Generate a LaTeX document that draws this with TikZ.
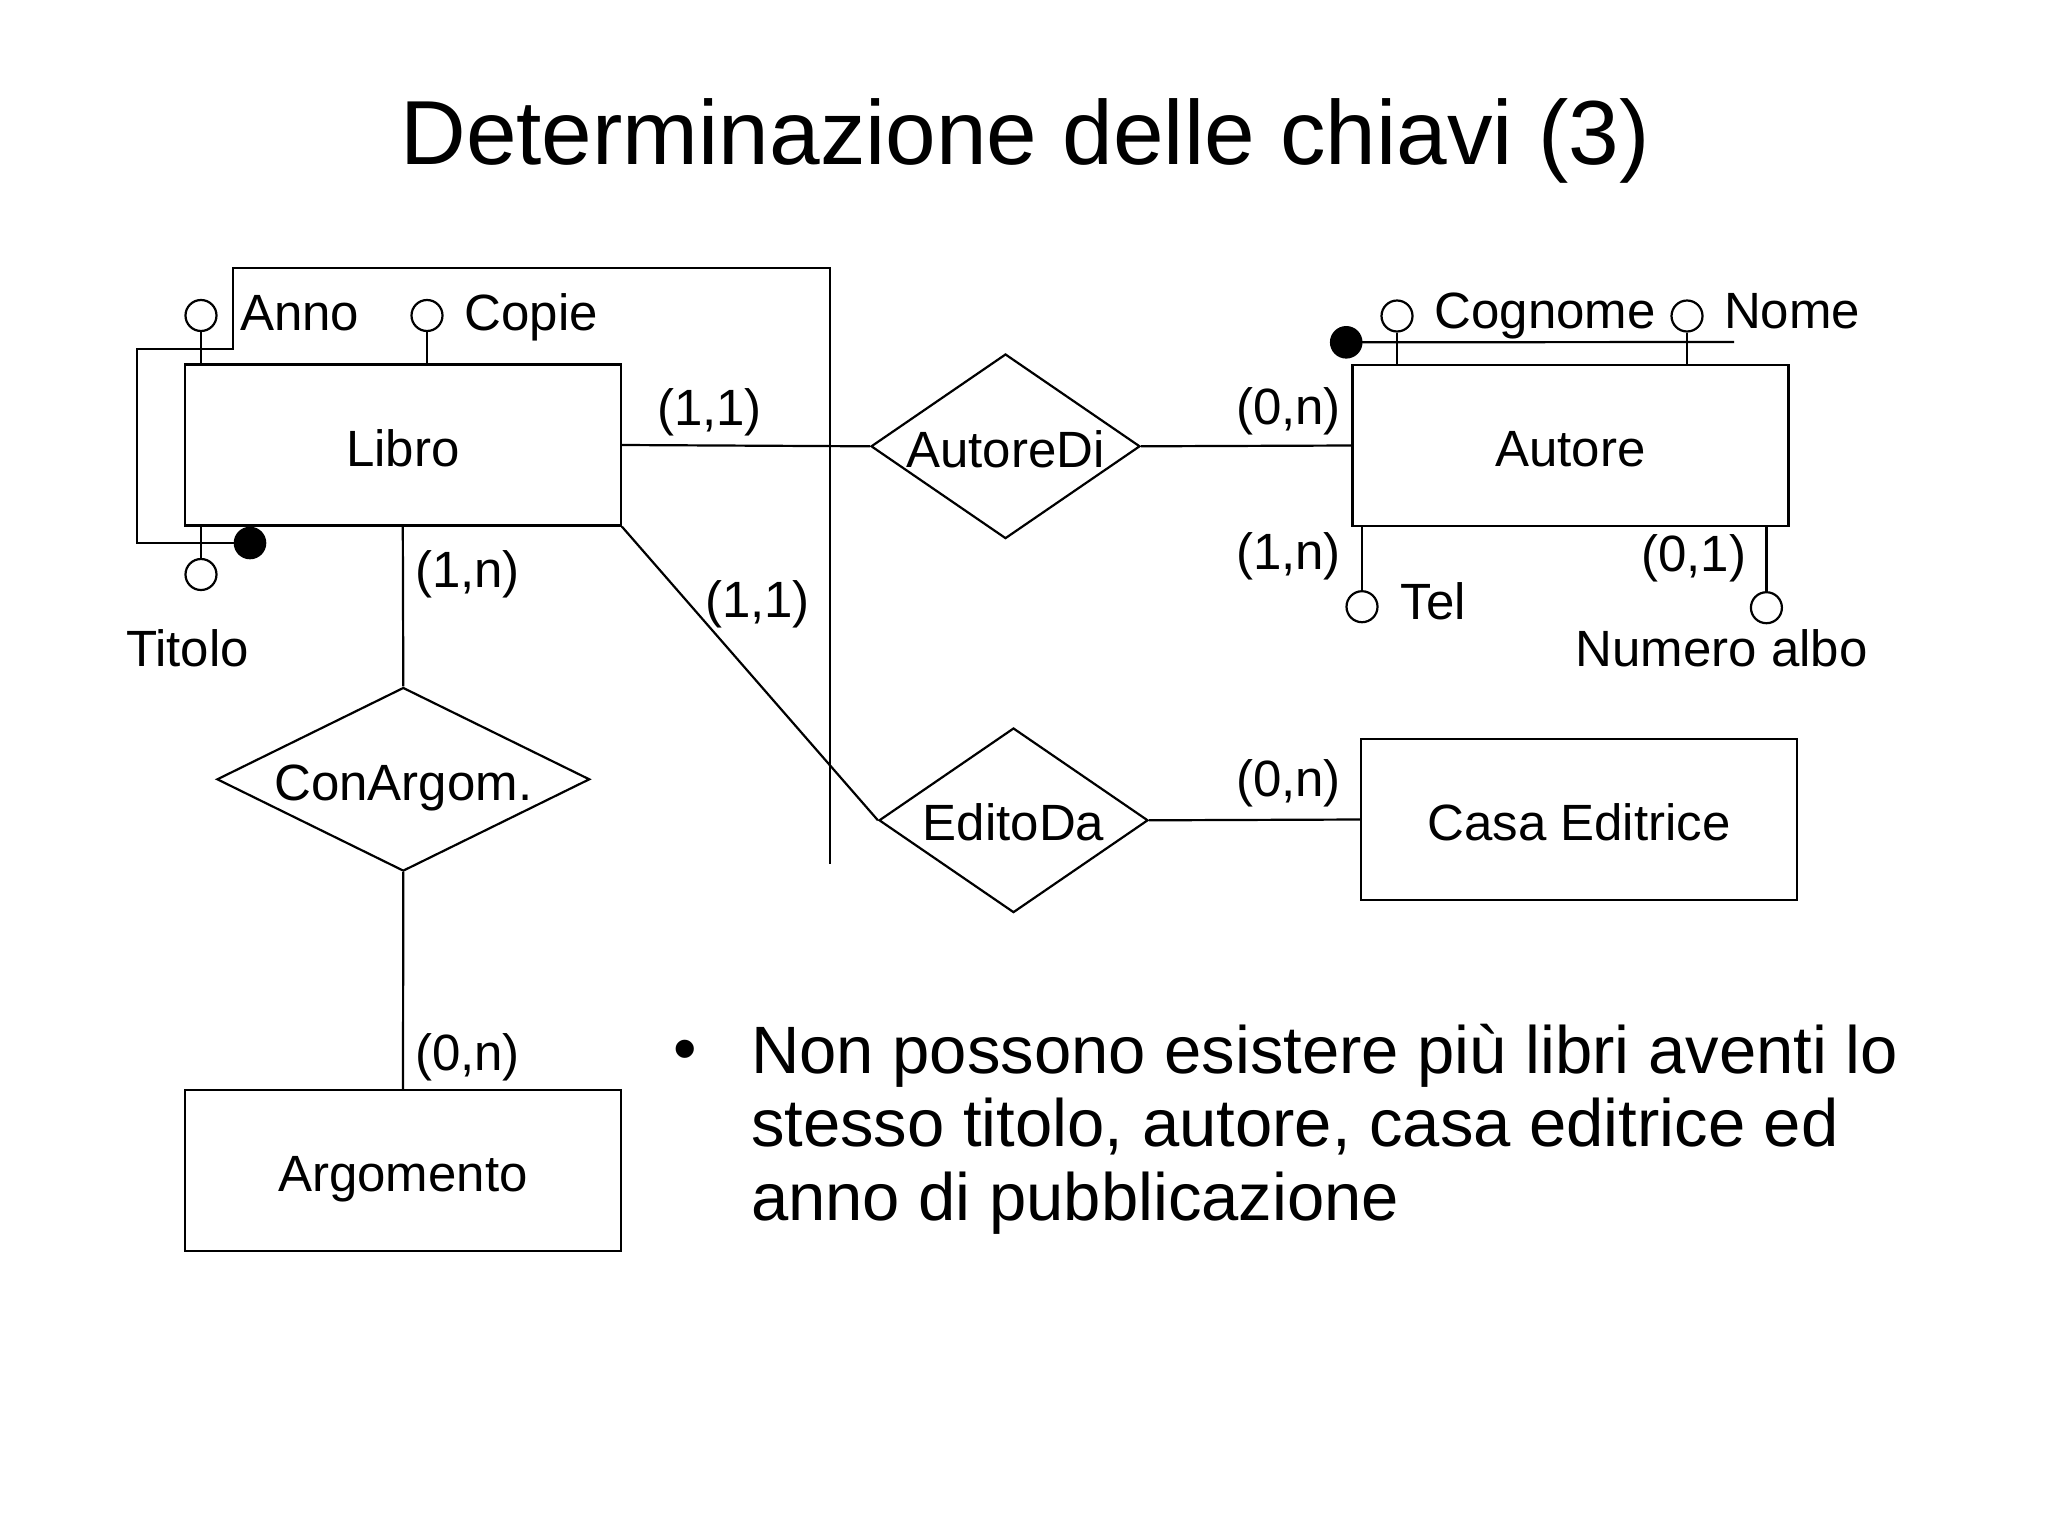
\documentclass[tikz,border=0pt]{standalone}
\usepackage{fontspec}
\setmainfont{Liberation Sans}
\usetikzlibrary{shapes.geometric}
\newcommand\lblfont{\fontsize{25.5}{30}\selectfont}
\newcommand\ttlfont{\fontsize{45.5}{52}\selectfont}
\newcommand\bulfont{\fontsize{33.5}{36.65}\selectfont}
\begin{document}
\begin{tikzpicture}[x=0.5pt,y=-0.5pt,line width=1.1pt,
  entity/.style={draw,rectangle,minimum width=218pt,minimum height=80.5pt,inner sep=0pt,
    font=\lblfont,text height=21.4pt,text depth=0pt},
  relation/.style={draw,diamond,inner sep=0pt,minimum width=134.5pt,minimum height=92.3pt},
  reltext/.style={font=\lblfont,inner sep=0pt,text height=21.4pt,text depth=0pt},
  attr/.style={draw,circle,fill=white,inner sep=0pt,minimum size=15.5pt},
  keydot/.style={fill=black,circle,inner sep=0pt,minimum size=16.3pt},
  card/.style={font=\lblfont,inner sep=0pt,anchor=base west},
  aname/.style={font=\lblfont,inner sep=0pt,anchor=base west},
  bline/.style={font=\bulfont,inner sep=0pt,anchor=base west}]
\fill[white] (0,0) rectangle (2048,1536);
\useasboundingbox (0,0) rectangle (2048,1536);

% title
\node[font=\ttlfont,inner sep=0pt,anchor=base] (title) at (1025,164.3) {Determinazione delle chiavi (3)};

% entities
\node[entity] (libro) at (402.8,445) {Libro};
\node[entity] (autore) at (1570.5,445.5) {Autore};
\node[entity] (casa) at (1579,819.5) {Casa Editrice};
\node[entity] (arg) at (403,1170.5) {Argomento};

% relationships
\node[relation] (autoredi) at (1005.5,446.3) {};
\node[reltext] (autoredit) at (autoredi) {AutoreDi};
\node[relation] (editoda) at (1013.5,820.3) {};
\node[reltext] (editodat) at ([yshift=0.5pt]editoda.center) {EditoDa};
\node[relation,minimum width=186.4pt,minimum height=91.8pt] (conarg) at (403.3,779.3) {};
\node[reltext] (conargt) at (conarg.center) {ConArgom.};

% connectors
\draw (libro.east) -- (autoredi.west);
\draw (autoredi.east) -- (autore.west);
\draw (libro.south east) -- (editoda.west);
\draw (editoda.east) -- (casa.west);
\draw (libro.south) -- (conarg.north);
\draw (conarg.south) -- (arg.north);

% Libro attributes
\node[attr] (anno) at (201,315.5) {};
\node[attr] (copie) at (427,315.5) {};
\node[attr] (titolo) at (201,574.5) {};
\draw (anno.south) -- (anno.south |- libro.north);
\draw (copie.south) -- (copie.south |- libro.north);
\draw (titolo.north) -- (titolo.north |- libro.south);
\node[aname] (annot) at (239,330) {Anno};
\node[aname] (copiet) at (463.5,330) {Copie};
\node[aname] (titolot) at (125,666.5) {Titolo};

% Libro identifier
\coordinate (k1) at (137,543);
\coordinate (k2) at (137,349);
\coordinate (k3) at (233,349);
\coordinate (k4) at (233,268);
\coordinate (k5) at (830,268);
\coordinate (k6) at (830,864);
\node[keydot] (ldot) at (250,543) {};
\draw (ldot.center) -- (k1) -- (k2) -- (k3) -- (k4) -- (k5) -- (k6);

% Autore attributes
\node[attr] (cognome) at (1397,316) {};
\node[attr] (nome) at (1687,316) {};
\node[attr] (tel) at (1362,606.7) {};
\node[attr] (albo) at (1766.4,607.7) {};
\coordinate (k7) at (1734,342);
\node[keydot] (adot) at (1346.2,342.3) {};
\draw (adot.center) -- (k7);
\draw (cognome.south) -- (cognome.south |- autore.north);
\draw (nome.south) -- (nome.south |- autore.north);
\draw (tel.north) -- (tel.north |- autore.south);
\draw (albo.north) -- (albo.north |- autore.south);
\node[aname] (cognomet) at (1433.5,328) {Cognome};
\node[aname] (nomet) at (1723,328) {Nome};
\node[aname] (telt) at (1399.5,619.3) {Tel};
\node[aname] (albot) at (1574.5,666.7) {Numero albo};

% cardinalities
\node[card] (c1) at (656,425) {(1,1)};
\node[card] (c2) at (414,587) {(1,n)};
\node[card] (c3) at (704,617.5) {(1,1)};
\node[card] (c4) at (414,1070) {(0,n)};
\node[card] (c5) at (1235,796) {(0,n)};
\node[card] (c6) at (1235,424.5) {(0,n)};
\node[card] (c7) at (1235,569.5) {(1,n)};
\node[card] (c8) at (1640,571) {(0,1)};

% bullet text
\node[font=\bulfont,inner sep=0pt] (bullet) at (685,1056) {•};
\node[bline] (bl1) at (750,1073.3) {Non possono esistere più libri aventi lo};
\node[bline] (bl2) at (750,1146.7) {stesso titolo, autore, casa editrice ed};
\node[bline] (bl3) at (750,1220) {anno di pubblicazione};
\end{tikzpicture}
\end{document}
